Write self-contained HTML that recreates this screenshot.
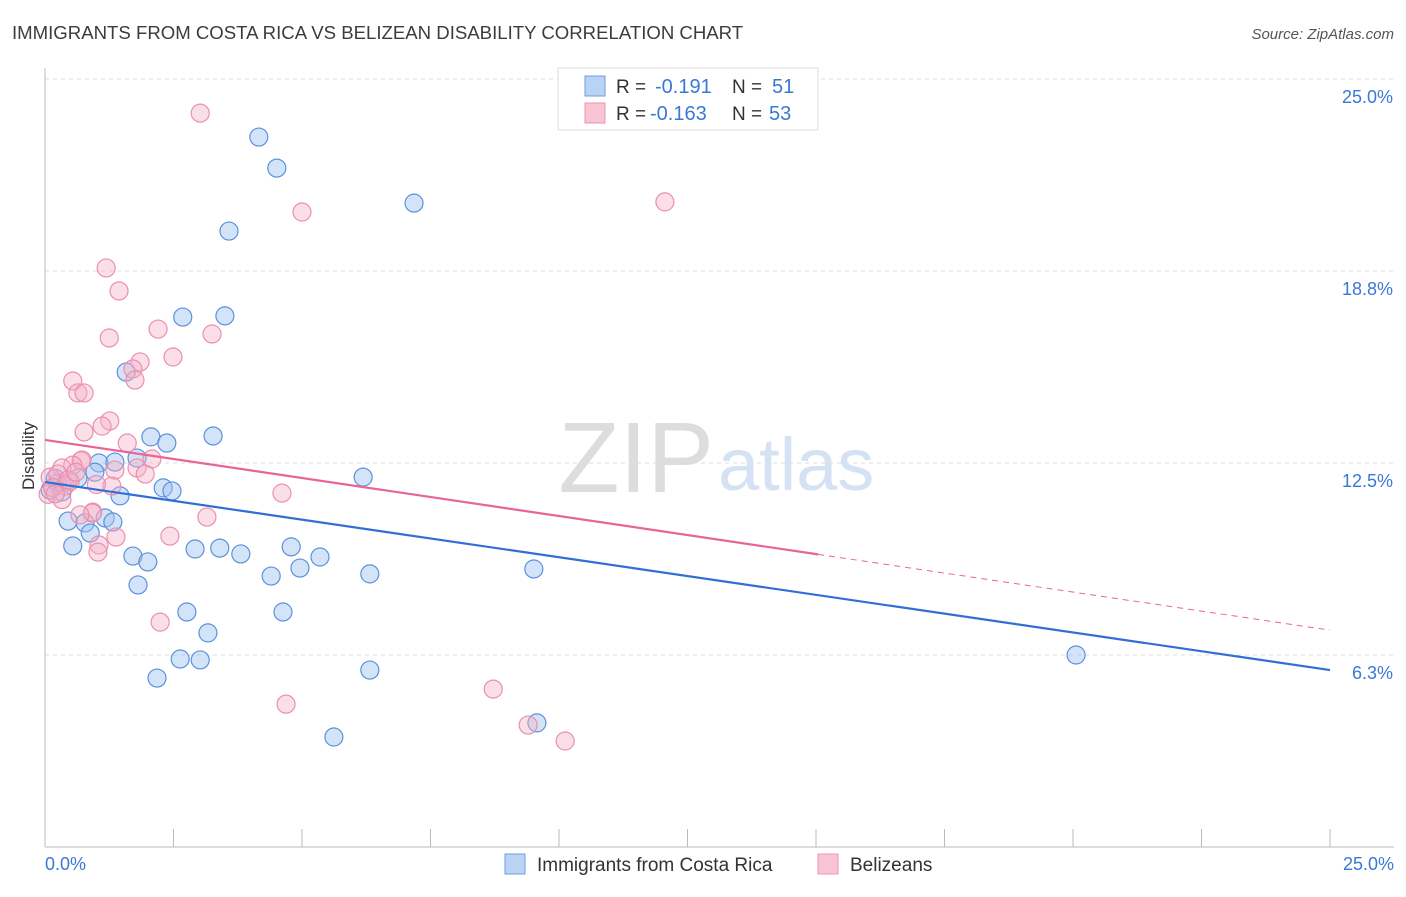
<!DOCTYPE html>
<html><head><meta charset="utf-8"><style>
body{margin:0;background:#fff;font-family:"Liberation Sans",sans-serif;}
svg text{font-family:"Liberation Sans",sans-serif;}
</style></head><body>
<svg id="chart" width="1406" height="892">
<text x="12" y="39" font-size="18.6" fill="#3c3c3c">IMMIGRANTS FROM COSTA RICA VS BELIZEAN DISABILITY CORRELATION CHART</text>
<text x="1394" y="39" font-size="15" fill="#555" text-anchor="end" font-style="italic">Source: ZipAtlas.com</text>
<g id="grid"></g>
<text x="714" y="492" font-size="100" fill="#ddd" text-anchor="end" font-family="Liberation Serif">ZIP</text>
<text x="718" y="490" font-size="74" fill="#d5e2f3">atlas</text>
<g id="marks"></g>
<text x="34" y="456" font-size="17" fill="#333" text-anchor="middle" transform="rotate(-90 34 456)">Disability</text>
<text x="45" y="870" font-size="18" fill="#3a78d6">0.0%</text>
<text x="1394" y="870" font-size="18" fill="#3a78d6" text-anchor="end">25.0%</text>
<g>
<rect x="558" y="68" width="260" height="62" fill="#fff" stroke="#ddd"/>
<rect x="585" y="76" width="20" height="20" fill="#b9d3f5" stroke="#6f9ee0"/>
<rect x="585" y="103" width="20" height="20" fill="#f9c5d5" stroke="#ea93b0"/>
<text x="616" y="93" font-size="19" fill="#333">R =</text>
<text x="655" y="93" font-size="20" fill="#3a78d6">-0.191</text>
<text x="732" y="93" font-size="19" fill="#333">N =</text>
<text x="772" y="93" font-size="20" fill="#3a78d6">51</text>
<text x="616" y="120" font-size="19" fill="#333">R =</text>
<text x="650" y="120" font-size="20" fill="#3a78d6">-0.163</text>
<text x="732" y="120" font-size="19" fill="#333">N =</text>
<text x="769" y="120" font-size="20" fill="#3a78d6">53</text>
</g>
<g>
<rect x="505" y="854" width="20" height="20" fill="#b9d3f5" stroke="#6f9ee0"/>
<text x="537" y="871" font-size="19" fill="#333">Immigrants from Costa Rica</text>
<rect x="818" y="854" width="20" height="20" fill="#f9c5d5" stroke="#ea93b0"/>
<text x="850" y="871" font-size="19" fill="#333">Belizeans</text>
</g>
</svg>
<script>
const yTicks=[25,18.75,12.5,6.25];
const yTickLabels=["25.0%","18.8%","12.5%","6.3%"];
const xTicks=[0,2.5,5,7.5,10,12.5,15,17.5,20,22.5,25];
const blueX=[4.16,4.51,7.18,3.58,2.68,3.5,1.58,2.06,2.37,3.27,1.05,1.36,1.79,0.97,0.64,2.3,2.47,1.46,0.45,0.78,1.17,1.32,0.88,0.54,1.71,2.0,1.81,2.92,3.4,3.81,4.79,4.96,5.35,4.4,0.1,0.25,0.33,0.2,6.19,6.32,9.51,2.76,4.63,3.17,2.63,3.02,2.18,6.32,5.62,9.57,20.06];
const blueY=[23.11,22.1,20.96,20.05,17.25,17.29,15.46,13.35,13.15,13.38,12.5,12.53,12.66,12.2,12.01,11.69,11.59,11.43,10.61,10.55,10.71,10.58,10.22,9.8,9.47,9.28,8.53,9.7,9.73,9.54,9.77,9.08,9.44,8.82,11.62,11.85,11.56,12.0,12.04,8.89,9.05,7.65,7.65,6.97,6.12,6.09,5.5,5.76,3.58,4.04,6.25];
const pinkX=[3.02,5.0,12.06,1.19,1.44,2.2,3.25,1.25,2.49,1.85,1.71,1.75,0.54,0.64,0.76,1.26,1.11,0.76,1.6,0.7,2.08,1.36,1.79,1.95,1.3,4.61,3.15,2.43,1.38,0.93,1.05,1.03,0.72,0.54,0.33,0.92,0.68,0.1,0.25,0.39,0.06,0.49,0.33,2.24,4.69,8.72,9.4,10.12,0.15,0.45,1.0,0.2,0.6];
const pinkY=[23.89,20.67,21.0,18.85,18.1,16.86,16.7,16.57,15.95,15.79,15.56,15.2,15.17,14.78,14.78,13.87,13.7,13.51,13.15,12.57,12.63,12.27,12.34,12.14,11.75,11.52,10.74,10.12,10.09,10.9,9.83,9.6,12.6,12.43,12.34,10.87,10.81,12.04,12.14,11.75,11.48,11.9,11.31,7.32,4.65,5.14,3.97,3.45,11.7,11.95,11.8,11.5,12.2];
const blueTrend=[11.88,5.76];
const pinkTrend=[13.25,7.06];
const pinkSolidEnd=15.04;
const X=v=>45+v*51.4, Y=v=>847-v*30.72;
const NS="http://www.w3.org/2000/svg";
const grid=document.getElementById('grid'), marks=document.getElementById('marks');
function mk(p,tag,a){const e=document.createElementNS(NS,tag);for(const k in a)e.setAttribute(k,a[k]);p.appendChild(e);return e;}
yTicks.forEach((t,i)=>{
 const l=mk(grid,'line',{x1:45,x2:1394,y1:Y(t),y2:Y(t),stroke:'#ddd','stroke-dasharray':'4 4'});
 
 
 const tx=mk(grid,'text',{x:1393,y:Y(t)+24,'font-size':18,fill:'#3a78d6','text-anchor':'end'});
 tx.textContent=yTickLabels[i];
 
 
});
const ax=mk(grid,'line',{x1:45,x2:45,y1:68,y2:847,stroke:'#bbb'});


const bx=mk(grid,'line',{x1:45,x2:1394,y1:847,y2:847,stroke:'#bbb'});


xTicks.forEach(t=>{
 const l=mk(grid,'line',{x1:X(t),x2:X(t),y1:829,y2:847,stroke:'#bbb'});
 
 
});
blueX.forEach((v,i)=>{
 const c=mk(marks,'circle',{cx:X(v),cy:Y(blueY[i]),r:9,fill:'rgba(160,196,240,0.45)',stroke:'#5b91dc','stroke-width':1.2});
 
 
});
pinkX.forEach((v,i)=>{
 const c=mk(marks,'circle',{cx:X(v),cy:Y(pinkY[i]),r:9,fill:'rgba(246,176,198,0.4)',stroke:'#eb8fae','stroke-width':1.2});
 
 
});
const bl=mk(marks,'line',{x1:X(0),y1:Y(blueTrend[0]),x2:X(25),y2:Y(blueTrend[1]),stroke:'#2f6fd6','stroke-width':2.2});


const pm=pinkTrend[0]+(pinkTrend[1]-pinkTrend[0])*pinkSolidEnd/25;
const pl=mk(marks,'line',{x1:X(0),y1:Y(pinkTrend[0]),x2:X(pinkSolidEnd),y2:Y(pm),stroke:'#e8649a','stroke-width':2.2});


const pd=mk(marks,'line',{x1:X(pinkSolidEnd),y1:Y(pm),x2:X(25),y2:Y(pinkTrend[1]),stroke:'#e8649a','stroke-width':1,'stroke-dasharray':'6 5'});


</script>
</body></html>
